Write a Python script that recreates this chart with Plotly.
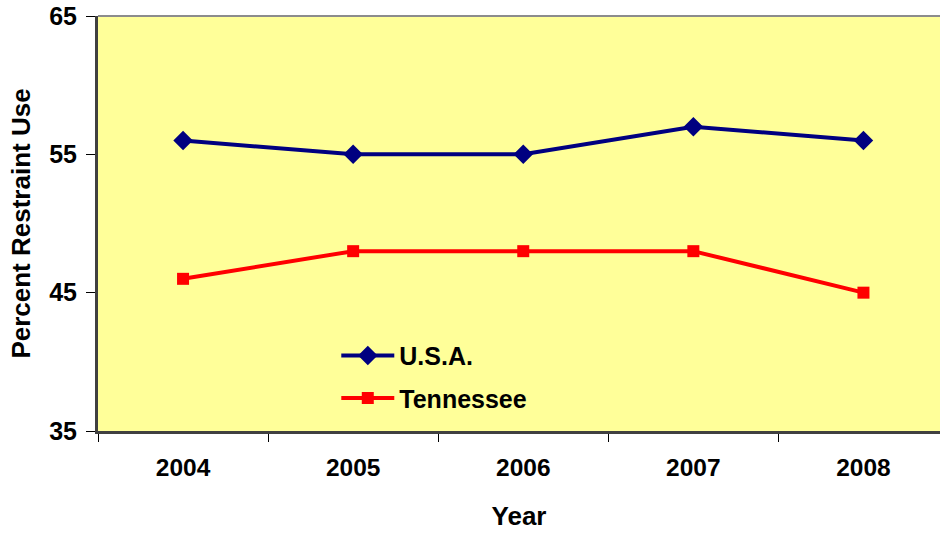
import plotly.graph_objects as go

years = ["2004", "2005", "2006", "2007", "2008"]
usa = [56, 55, 55, 57, 56]
tennessee = [46, 48, 48, 48, 45]
y_ticks = [35, 45, 55, 65]

FONT = "Liberation Sans, Arial, sans-serif"

fig = go.Figure()
fig.add_trace(go.Scatter(
    x=years, y=usa, name="U.S.A.", mode="lines+markers",
    line=dict(color="#000080", width=4),
    marker=dict(symbol="diamond", size=15, color="#000080"),
    legendgroup="a",
))
fig.add_trace(go.Scatter(
    x=years, y=tennessee, name="Tennessee", mode="lines+markers",
    line=dict(color="#FF0000", width=4),
    marker=dict(symbol="square", size=12, color="#FF0000"),
    legendgroup="b",
))

fig.update_layout(
    width=940, height=533,
    margin=dict(l=98, r=0, t=16, b=102),
    paper_bgcolor="white",
    plot_bgcolor="#FFFF99",
    font=dict(family=FONT, color="black", size=25),
    showlegend=True,
    legend=dict(
        x=0.283, y=0.237, xanchor="left", yanchor="top",
        bgcolor="rgba(0,0,0,0)",
        font=dict(family=FONT, size=25, color="black", weight="bold"),
        traceorder="grouped", tracegroupgap=7,
        itemwidth=53,
    ),
    xaxis=dict(
        type="category", range=[-0.5, 4.45],
        tickson="boundaries", ticks="outside", ticklen=8, tickwidth=1, tickcolor="black",
        showline=True, linecolor="#404040", linewidth=3,
        showgrid=False, zeroline=False,
        tickfont=dict(family=FONT, size=24.5, weight="bold"),
        ticklabelstandoff=13,
        title=dict(text="<b>Year</b>", font=dict(family=FONT, size=26), standoff=27),
    ),
    yaxis=dict(
        range=[35, 65], tickvals=y_ticks,
        ticks="outside", ticklen=9, tickwidth=1, tickcolor="black",
        showline=True, linecolor="#404040", linewidth=3,
        showgrid=False, zeroline=False,
        tickfont=dict(family=FONT, size=25, weight="bold"),
        ticklabelstandoff=4,
        title=dict(text="<b>Percent Restraint Use</b>", font=dict(family=FONT, size=26), standoff=12),
    ),
    shapes=[dict(type="line", xref="paper", yref="paper", x0=0, x1=1, y0=1, y1=1,
                 line=dict(color="#8C8C8C", width=2))],
)

fig.write_html("out.html")
